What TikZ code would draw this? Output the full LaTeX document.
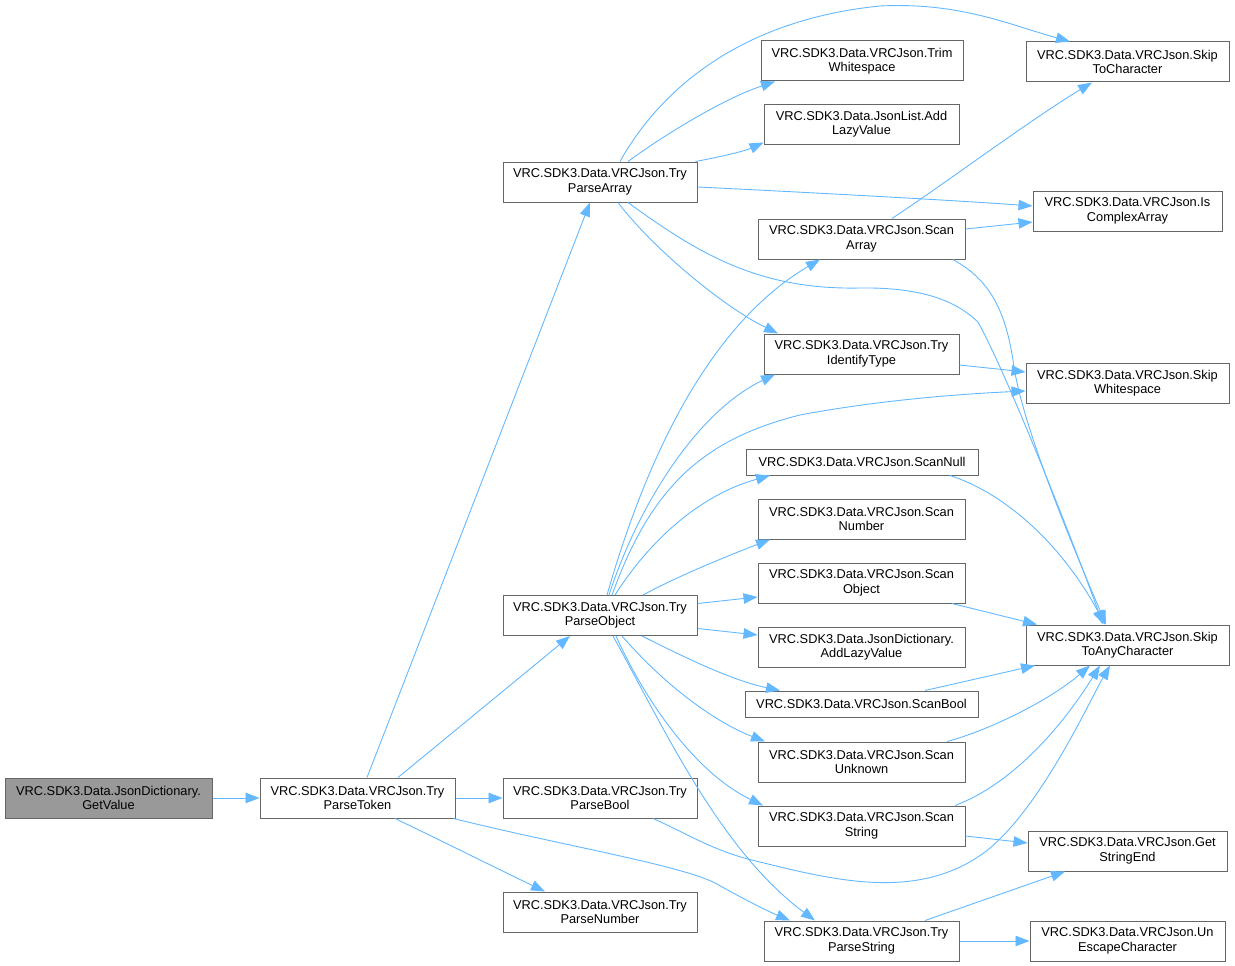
\documentclass[tikz,border=0pt]{standalone}
\usepackage{fontspec}
\setmainfont{Liberation Sans}
\usetikzlibrary{arrows.meta}
\definecolor{edgeblue}{HTML}{63B8FF}
\definecolor{bordergray}{HTML}{666666}
\definecolor{fillgray}{HTML}{999999}
\tikzset{
  fn/.style={draw=bordergray, fill=white, line width=1pt, rectangle, inner sep=0pt,
    minimum height=40pt, align=center, font=\fontsize{12.8}{14.5}\selectfont},
  cur/.style={fn, fill=fillgray},
  call/.style={draw=edgeblue, line width=0.9pt, -{Triangle[length=14pt,width=10.5pt,fill=edgeblue]}}
}
\begin{document}
\begin{tikzpicture}[x=1pt,y=-1pt]
\useasboundingbox (0,0) rectangle (1235,966);
% nodes
\node[cur, minimum width=207pt] (gv) at (108.5,798) {VRC.SDK3.Data.JsonDictionary.\\GetValue};
\node[fn, minimum width=195pt] (tpt) at (357.5,798) {VRC.SDK3.Data.VRCJson.Try\\ParseToken};
\node[fn, minimum width=194pt] (tpa) at (600,182) {VRC.SDK3.Data.VRCJson.Try\\ParseArray};
\node[fn, minimum width=194pt] (tpo) at (600,615.5) {VRC.SDK3.Data.VRCJson.Try\\ParseObject};
\node[fn, minimum width=194pt] (tpb) at (600,798) {VRC.SDK3.Data.VRCJson.Try\\ParseBool};
\node[fn, minimum width=194pt] (tpn) at (600,912) {VRC.SDK3.Data.VRCJson.Try\\ParseNumber};
\node[fn, minimum width=202pt] (tw) at (862,61) {VRC.SDK3.Data.VRCJson.Trim\\Whitespace};
\node[fn, minimum width=195pt] (jla) at (861.5,124) {VRC.SDK3.Data.JsonList.Add\\LazyValue};
\node[fn, minimum width=207pt] (sa) at (861.5,239) {VRC.SDK3.Data.VRCJson.Scan\\Array};
\node[fn, minimum width=195pt] (tit) at (861.5,354) {VRC.SDK3.Data.VRCJson.Try\\IdentifyType};
\node[fn, minimum width=232pt, minimum height=26pt] (sn) at (862,462) {VRC.SDK3.Data.VRCJson.ScanNull};
\node[fn, minimum width=207pt] (snum) at (861.5,519) {VRC.SDK3.Data.VRCJson.Scan\\Number};
\node[fn, minimum width=207pt] (so) at (861.5,583) {VRC.SDK3.Data.VRCJson.Scan\\Object};
\node[fn, minimum width=207pt] (jda) at (861.5,647) {VRC.SDK3.Data.JsonDictionary.\\AddLazyValue};
\node[fn, minimum width=233pt, minimum height=26pt] (sb) at (861.5,704) {VRC.SDK3.Data.VRCJson.ScanBool};
\node[fn, minimum width=207pt] (su) at (861.5,762) {VRC.SDK3.Data.VRCJson.Scan\\Unknown};
\node[fn, minimum width=207pt] (ss) at (861.5,826) {VRC.SDK3.Data.VRCJson.Scan\\String};
\node[fn, minimum width=195pt] (tps) at (861.5,941) {VRC.SDK3.Data.VRCJson.Try\\ParseString};
\node[fn, minimum width=203pt] (stc) at (1127.5,62) {VRC.SDK3.Data.VRCJson.Skip\\ToCharacter};
\node[fn, minimum width=189pt] (ica) at (1127.5,211) {VRC.SDK3.Data.VRCJson.Is\\ComplexArray};
\node[fn, minimum width=203pt] (sw) at (1127.5,383) {VRC.SDK3.Data.VRCJson.Skip\\Whitespace};
\node[fn, minimum width=203pt] (stac) at (1127.5,645) {VRC.SDK3.Data.VRCJson.Skip\\ToAnyCharacter};
\node[fn, minimum width=199pt] (gse) at (1127.5,851) {VRC.SDK3.Data.VRCJson.Get\\StringEnd};
\node[fn, minimum width=195pt] (uec) at (1127.5,941) {VRC.SDK3.Data.VRCJson.Un\\EscapeCharacter};
% edges
\draw[call] (gv.east) -- (tpt.west);
\draw[call] ([xshift=9.5pt]tpt.north) -- ([xshift=-10pt]tpa.south);
\draw[call] ([xshift=40.5pt]tpt.north) -- ([xshift=-30pt]tpo.south);
\draw[call] (tpt.east) -- (tpb.west);
\draw[call] ([xshift=37.5pt]tpt.south) .. controls (440,840) and (500,870) .. ([xshift=-55pt]tpn.north);
\draw[call] ([xshift=-2pt]tpt.south east) .. controls (560,845) and (680,865) .. (715,883) .. controls (740,897) and (765,910) .. ([xshift=-71.5pt]tps.north);
% TryParseArray
\draw[call] ([xshift=20pt]tpa.north) .. controls (660,90) and (740,20) .. (880,6) .. controls (960,2) and (1010,25) .. ([xshift=-57.5pt]stc.north);
\draw[call] ([xshift=28pt]tpa.north) .. controls (660,138) and (720,100) .. ([xshift=-87pt]tw.south);
\draw[call] ([xshift=-2pt]tpa.north east) .. controls (720,157) and (745,151) .. ([yshift=2pt]jla.south west);
\draw[call] ([yshift=-5pt]tpa.east) .. controls (800,192) and (950,200) .. ([yshift=5pt]ica.west);
\draw[call] ([xshift=18pt]tpa.south) .. controls (650,245) and (720,305) .. ([xshift=-83.5pt]tit.north);
\draw[call] ([xshift=28pt]tpa.south) .. controls (700,255) and (760,290) .. (860,288) .. controls (930,287) and (960,305) .. (978,322) .. controls (1010,380) and (1080,560) .. ([xshift=-24.5pt]stac.north);
% ScanArray
\draw[call] ([xshift=30.5pt]sa.north) .. controls (950,180) and (1030,120) .. ([xshift=-35.5pt]stc.south);
\draw[call] ([yshift=10pt]sa.east) -- ([yshift=-11pt]ica.west);
\draw[call] ([xshift=91.5pt]sa.south) .. controls (990,280) and (1005,310) .. (1013,360) .. controls (1020,420) and (1070,540) .. ([xshift=-21.5pt]stac.north);
% TryIdentifyType
\draw[call] ([yshift=-11pt]tit.east) -- ([yshift=11pt]sw.west);
% ScanNull etc.
\draw[call] ([xshift=88pt]sn.south) .. controls (1010,495) and (1065,550) .. ([xshift=-22.5pt]stac.north);
\draw[call] ([xshift=90.5pt]so.south) -- ([xshift=-90.5pt]stac.north);
\draw[call] ([xshift=63.5pt]sb.north) -- ([xshift=-92.5pt]stac.south);
\draw[call] ([xshift=85.5pt]su.north) .. controls (990,730) and (1050,700) .. ([xshift=-37.5pt]stac.south);
\draw[call] ([xshift=93.5pt]ss.north) .. controls (1010,785) and (1060,730) .. ([xshift=-27.5pt]stac.south);
\draw[call] ([yshift=-10pt]ss.east) -- ([yshift=8pt]gse.west);
% TryParseBool
\draw[call] ([xshift=53pt]tpb.south) .. controls (690,835) and (715,852) .. (760,862) .. controls (840,882) and (920,900) .. (985,852) .. controls (1040,810) and (1090,700) .. ([xshift=-17.5pt]stac.south);
% TryParseString
\draw[call] ([xshift=63.5pt]tps.north) -- ([xshift=-62.5pt]gse.south);
\draw[call] (tps.east) -- (uec.west);
% TryParseObject
\draw[call] ([xshift=7pt]tpo.north) .. controls (640,480) and (700,330) .. ([xshift=-41.5pt]sa.south);
\draw[call] ([xshift=9pt]tpo.north) .. controls (640,500) and (700,410) .. ([xshift=-86.5pt]tit.south);
\draw[call] ([xshift=12pt]tpo.north) .. controls (650,490) and (700,440) .. (800,415) .. controls (880,400) and (960,394) .. ([yshift=-8pt]sw.west);
\draw[call] ([xshift=15pt]tpo.north) .. controls (650,540) and (700,495) .. ([xshift=-92pt]sn.south);
\draw[call] ([xshift=43pt]tpo.north) .. controls (680,575) and (730,555) .. ([xshift=-91.5pt]snum.south);
\draw[call] ([yshift=12pt]tpo.east) -- ([yshift=-14pt]so.west);
\draw[call] ([yshift=-13pt]tpo.east) -- ([yshift=12pt]jda.west);
\draw[call] ([xshift=42pt]tpo.south) .. controls (680,655) and (730,680) .. ([xshift=-81.5pt]sb.north);
\draw[call] ([xshift=22pt]tpo.south) .. controls (660,680) and (710,720) .. ([xshift=-96.5pt]su.north);
\draw[call] ([xshift=16pt]tpo.south) .. controls (640,690) and (690,770) .. ([xshift=-98.5pt]ss.north);
\draw[call] ([xshift=13pt]tpo.south) .. controls (665,730) and (720,850) .. ([xshift=-46.5pt]tps.north);
\end{tikzpicture}
\end{document}
